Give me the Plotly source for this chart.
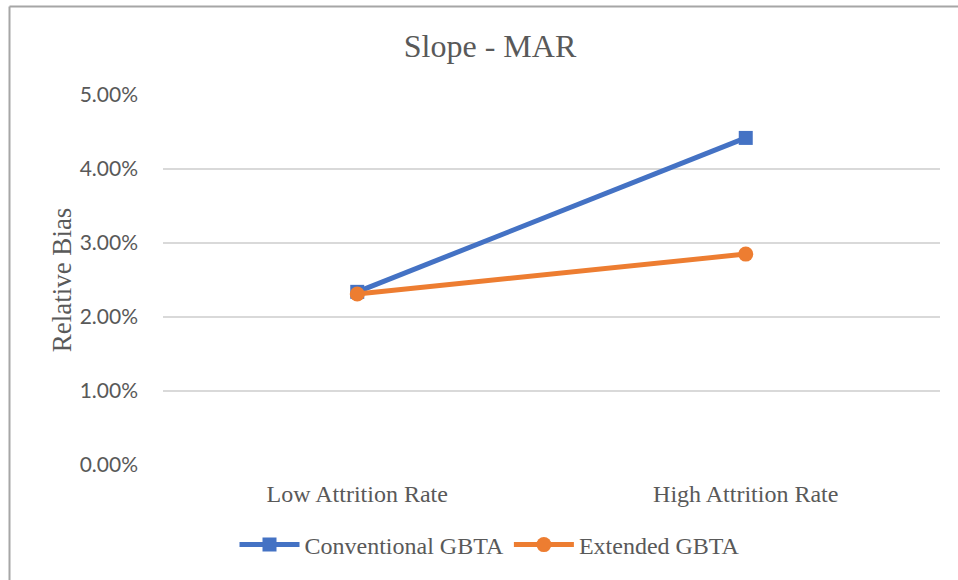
import plotly.graph_objects as go

# Relative bias of the slope estimate under MAR, by attrition level
categories = ["Low Attrition Rate", "High Attrition Rate"]
conventional = [0.0234, 0.0442]
extended = [0.0231, 0.0285]
y_ticks = [0.0, 0.01, 0.02, 0.03, 0.04, 0.05]
y_tick_labels = ["0.00%", "1.00%", "2.00%", "3.00%", "4.00%", "5.00%"]

BLUE = "#4472C4"
ORANGE = "#ED7D31"
TEXT = "#595959"
SERIF = "Liberation Serif, Times New Roman, serif"

fig = go.Figure()
fig.add_trace(go.Scatter(
    x=categories, y=conventional, name="Conventional GBTA",
    mode="lines+markers",
    line=dict(color=BLUE, width=5),
    marker=dict(symbol="square", size=14, color=BLUE),
))
fig.add_trace(go.Scatter(
    x=categories, y=extended, name="Extended GBTA",
    mode="lines+markers",
    line=dict(color=ORANGE, width=5),
    marker=dict(symbol="circle", size=15, color=ORANGE),
))

fig.update_layout(
    width=958, height=580,
    margin=dict(l=163, r=18, t=95, b=115),
    paper_bgcolor="white", plot_bgcolor="white",
    hovermode=False,
    title=dict(text="Slope - MAR", x=490 / 958, xref="container",
               xanchor="center", y=1 - 46 / 580, yanchor="middle",
               font=dict(family=SERIF, size=32, color=TEXT)),
    xaxis=dict(
        type="category", range=[-0.5, 1.5],
        showgrid=False, zeroline=False, showline=False, ticks="",
        tickfont=dict(family=SERIF, size=24, color=TEXT),
        ticklabelstandoff=12,
    ),
    yaxis=dict(
        range=[0, 0.05], tickvals=y_ticks, ticktext=y_tick_labels,
        showgrid=True, gridcolor="#D9D9D9", gridwidth=1.5,
        zeroline=False, showline=False, ticks="",
        tickfont=dict(family="Lato, Liberation Sans, sans-serif", size=21, color=TEXT),
        ticklabelstandoff=24,
        title=dict(text="Relative Bias", standoff=0,
                   font=dict(family=SERIF, size=27, color=TEXT)),
    ),
    legend=dict(
        orientation="h", x=(490 - 163) / 777, xanchor="center",
        y=-(545 - 465) / 370, yanchor="middle",
        font=dict(family=SERIF, size=24, color=TEXT),
        itemwidth=60, traceorder="normal",
    ),
    shapes=[
        # chart frame (left and top edges)
        dict(type="line", xref="paper", yref="paper",
             x0=(9.5 - 163) / 777, x1=(970 - 163) / 777,
             y0=(465 - 6.5) / 370, y1=(465 - 6.5) / 370,
             line=dict(color="#A6A6A6", width=2)),
        dict(type="line", xref="paper", yref="paper",
             x0=(9.5 - 163) / 777, x1=(9.5 - 163) / 777,
             y0=(465 - 6.5) / 370, y1=(465 - 600) / 370,
             line=dict(color="#A6A6A6", width=2)),
    ],
)

fig.write_html("out.html")
